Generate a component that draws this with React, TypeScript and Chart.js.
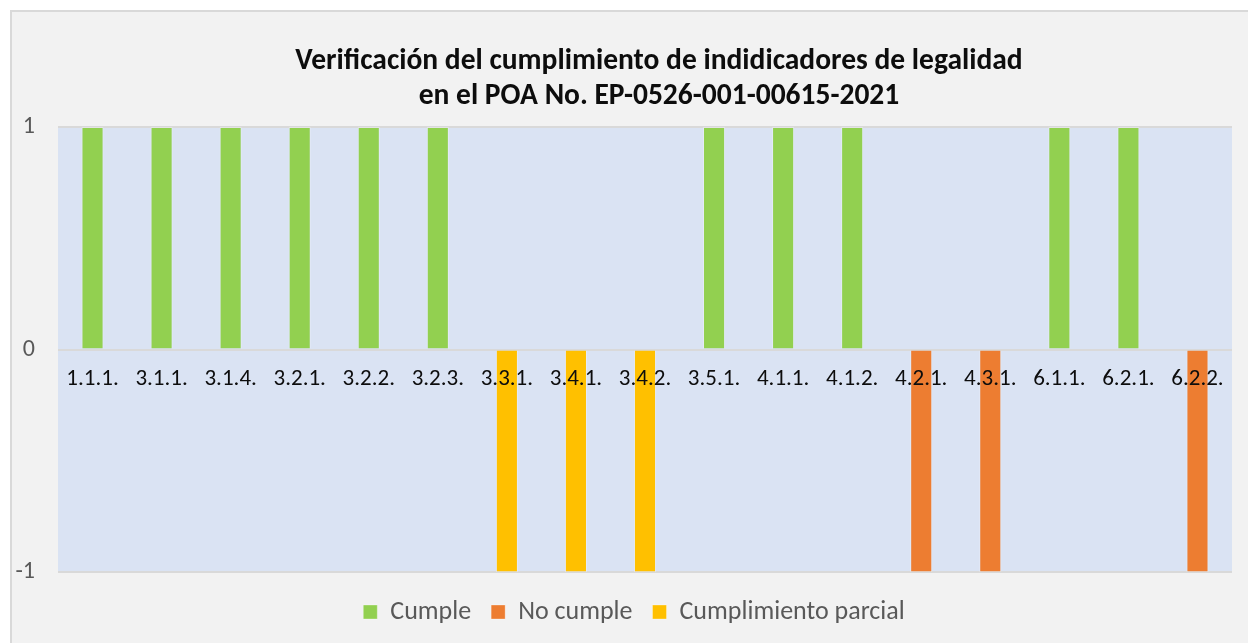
import React, { useEffect, useRef } from "react";
import { Chart, registerables } from "chart.js";

Chart.register(...registerables);

const categories = ["1.1.1.", "3.1.1.", "3.1.4.", "3.2.1.", "3.2.2.", "3.2.3.", "3.3.1.", "3.4.1.", "3.4.2.", "3.5.1.", "4.1.1.", "4.1.2.", "4.2.1.", "4.3.1.", "6.1.1.", "6.2.1.", "6.2.2."];
const cumple = [1, 1, 1, 1, 1, 1, null, null, null, 1, 1, 1, null, null, 1, 1, null];
const noCumple = [null, null, null, null, null, null, null, null, null, null, null, null, -1, -1, null, null, -1];
const parcial = [null, null, null, null, null, null, -1, -1, -1, null, null, null, null, null, null, null, null];
const seriesNames = ["Cumple", "No cumple", "Cumplimiento parcial"];
const titleLines = ["Verificación del cumplimiento de indidicadores de legalidad", "en el POA No. EP-0526-001-00615-2021"];

const FONT = "Carlito, Lato, 'Open Sans', sans-serif";

export default function App() {
  const ref = useRef<HTMLCanvasElement | null>(null);
  useEffect(() => {
    const canvas = ref.current!;
    const bgPlugin = {
      id: "plotBg",
      beforeDraw(chart: any) {
        const { ctx, chartArea } = chart;
        ctx.save();
        ctx.fillStyle = "#DAE3F3";
        ctx.fillRect(chartArea.left, chartArea.top, chartArea.right - chartArea.left, chartArea.bottom - chartArea.top);
        ctx.restore();
      },
    };
    const titlePlugin = {
      id: "customTitle",
      afterDraw(chart: any) {
        const { ctx } = chart;
        ctx.save();
        ctx.fillStyle = "#0D0D0D";
        ctx.font = `bold 29.5px ${FONT}`;
        ctx.textAlign = "center";
        ctx.textBaseline = "alphabetic";
        ctx.fillText(titleLines[0], 659, 69);
        ctx.fillText(titleLines[1], 659, 104);
        ctx.restore();
      },
    };
    const chart = new Chart(canvas, {
      type: "bar",
      data: {
        labels: categories,
        datasets: [
          { label: seriesNames[0], data: cumple, backgroundColor: "#92D050", borderColor: "rgba(255,255,255,0.3)", borderWidth: 1 },
          { label: seriesNames[1], data: noCumple, backgroundColor: "#ED7D31", borderColor: "rgba(255,255,255,0.3)", borderWidth: 1 },
          { label: seriesNames[2], data: parcial, backgroundColor: "#FFC000", borderColor: "rgba(255,255,255,0.3)", borderWidth: 1 },
        ],
      },
      options: {
        responsive: false,
        animation: false,
        devicePixelRatio: 1,
        layout: { padding: { top: 127, left: 0, right: 32, bottom: 45 } },
        datasets: { bar: { barPercentage: 0.32, categoryPercentage: 1 } },
        scales: {
          x: {
            stacked: true,
            position: { y: 0 },
            grid: { display: false, drawTicks: false },
            border: { display: false },
            ticks: { z: 1, color: "#0D0D0D", font: { family: FONT, size: 23 }, padding: 16, maxRotation: 0, autoSkip: false },
          },
          y: {
            stacked: true,
            min: -1,
            max: 1,
            afterFit(scale: any) {
              scale.width = 58;
            },
            grid: { color: "#D9D9D9", lineWidth: 2, drawTicks: false },
            border: { display: false },
            ticks: { stepSize: 1, color: "#595959", font: { family: FONT, size: 24 }, padding: 23 },
          },
          yR: {
            type: "linear",
            position: "right",
            display: true,
            afterFit(scale: any) {
              scale.width = 36;
            },
            grid: { display: false, drawTicks: false },
            border: { display: false },
            ticks: { display: false },
          },
        },
        plugins: {
          title: { display: false },
          tooltip: { enabled: false },
          legend: {
            position: "bottom",
            title: { display: true, text: "", font: { size: 4 }, padding: 1 },
            labels: { boxWidth: 14, boxHeight: 14, color: "#595959", font: { family: FONT, size: 26 }, padding: 20 },
          },
        },
      },
      plugins: [bgPlugin, titlePlugin],
    });
    return () => chart.destroy();
  }, []);

  return (
    <div style={{ position: "fixed", left: 0, top: 0, width: 1248, height: 643, overflow: "hidden", background: "#FFFFFF" }}>
      <div
        style={{
          position: "absolute",
          left: 10,
          top: 10,
          width: 1300,
          height: 700,
          background: "#F2F2F2",
          borderLeft: "2px solid #D9D9D9",
          borderTop: "2px solid #D9D9D9",
          boxSizing: "border-box",
        }}
      />
      <canvas ref={ref} width={1300} height={680} style={{ position: "absolute", left: 0, top: 0, width: 1300, height: 680 }} />
    </div>
  );
}
